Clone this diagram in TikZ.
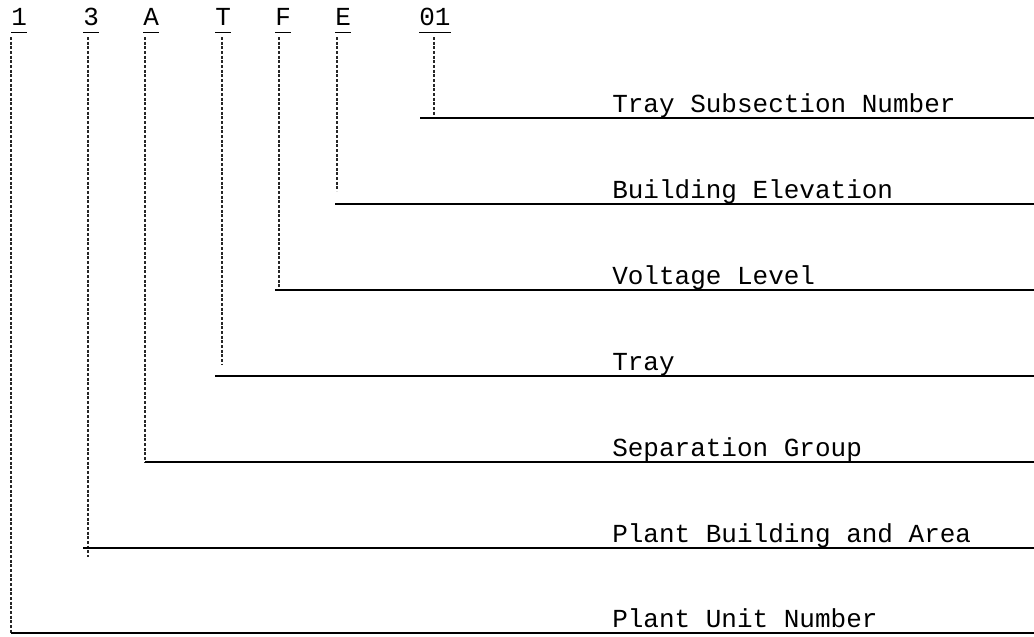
\documentclass[tikz,border=0pt]{standalone}
\usepackage{fontspec}
\setmonofont{Liberation Mono}
\usepackage{tikz}
\usetikzlibrary{positioning, calc}

\begin{document}
\begin{tikzpicture}[
    x=0.75pt, y=-0.75pt,
    every node/.style={font=\ttfamily\fontsize{19.5}{24}\selectfont, inner sep=0pt},
    code/.style={anchor=base west},
    field/.style={anchor=base west},
    uline/.style={line width=1.1pt},
    lead/.style={line width=0.8pt, draw=black!85, dash pattern=on 2.2pt off 1.3pt},
    rail/.style={line width=1.6pt}
]
\useasboundingbox (0,0) rectangle (1034,636);

% Code characters
\node[code] (unit) at (11,25) {1};
\node[code] (bldg) at (83,25) {3};
\node[code] (sep) at (143,25) {A};
\node[code] (tray) at (215,25) {T};
\node[code] (volt) at (275,25) {F};
\node[code] (elev) at (335,25) {E};
\node[code] (sub) at (419,25) {01};

% Underlines
\foreach \c in {unit, bldg, sep, tray, volt, elev, sub}
    \draw[uline] ([yshift=-5.6pt]\c.base west) -- ([yshift=-5.6pt]\c.base east);

% Rails (start and end points)
\coordinate (subL) at (420,118);   \coordinate (subR) at (1034,118);
\coordinate (elevL) at (335,204);  \coordinate (elevR) at (1034,204);
\coordinate (voltL) at (275,290);  \coordinate (voltR) at (1034,290);
\coordinate (trayL) at (215,376);  \coordinate (trayR) at (1034,376);
\coordinate (sepL) at (145,462);   \coordinate (sepR) at (1034,462);
\coordinate (bldgL) at (83,548);   \coordinate (bldgR) at (1034,548);
\coordinate (unitL) at (11,633);   \coordinate (unitR) at (1034,633);

% Field names
\node[field] (subT) at (612,112) {Tray Subsection Number};
\node[field] (elevT) at (612,198) {Building Elevation};
\node[field] (voltT) at (612,284) {Voltage Level};
\node[field] (trayT) at (612,370) {Tray};
\node[field] (sepT) at (612,456) {Separation Group};
\node[field] (bldgT) at (612,542) {Plant Building and Area};
\node[field] (unitT) at (612,627) {Plant Unit Number};

% Leaders from the code down to the rails
\draw[lead] (434,37) coordinate (subA) -- (434,116) coordinate (subB);
\draw[lead] (337,37) coordinate (elevA) -- (337,191) coordinate (elevB);
\draw[lead] (279,37) coordinate (voltA) -- (279,289) coordinate (voltB);
\draw[lead] (222,37) coordinate (trayA) -- (222,365) coordinate (trayB);
\draw[lead] (145,37) coordinate (sepA) -- (145,462) coordinate (sepB);
\draw[lead] (88,37) coordinate (bldgA) -- (88,557) coordinate (bldgB);
\draw[lead] (11,37) coordinate (unitA) -- (11,633) coordinate (unitB);

% Rails
\foreach \r in {sub, elev, volt, tray, sep, bldg, unit}
    \draw[rail] (\r L) -- (\r R);

\end{tikzpicture}
\end{document}
